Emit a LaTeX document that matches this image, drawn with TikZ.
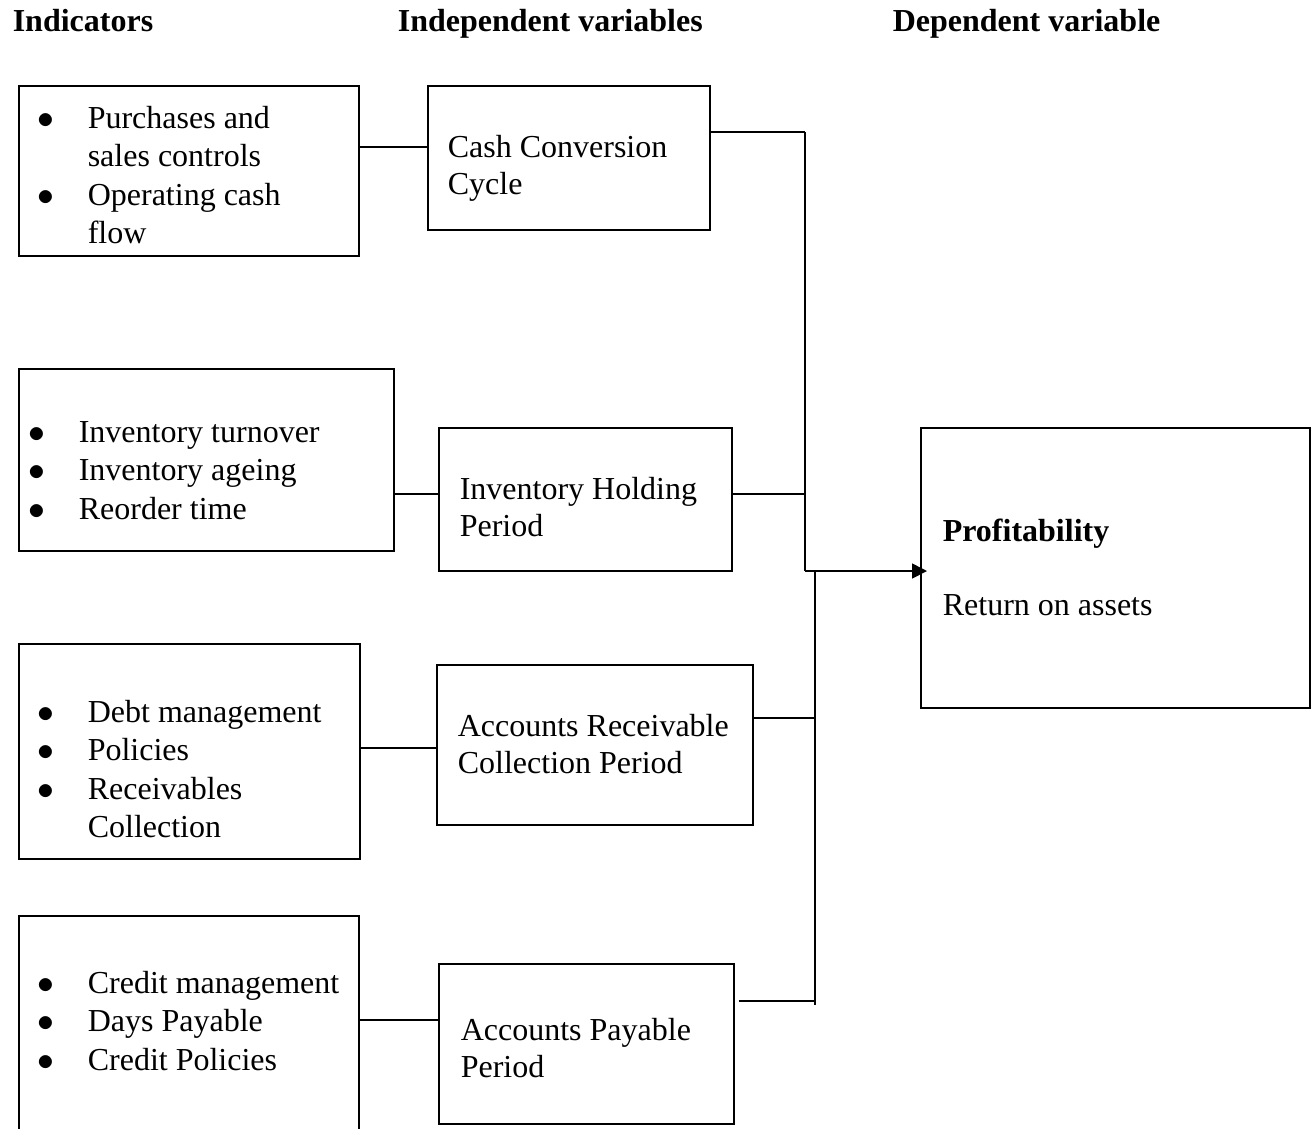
\documentclass[tikz,border=0pt]{standalone}
\usepackage{fontspec}
\setmainfont{Liberation Serif}
\usepackage{graphicx}
\usepackage{tikz}
\usetikzlibrary{arrows.meta,positioning}
\newlength{\bulgap}
\setlength{\bulgap}{50pt}
\newcommand{\bul}{\makebox[\bulgap][l]{\scalebox{1.35}{$\bullet$}}}
\newcommand{\ind}{\hspace*{\bulgap}}
\newcommand{\rows}[1]{\begin{tabular}[t]{@{}l@{}}#1\end{tabular}}

\begin{document}
\begin{tikzpicture}[x=1pt,y=-1pt,>={Triangle[length=15pt,width=15pt]},
  line width=1.6pt, font=\fontsize{32}{38.5}\selectfont,
  box/.style={draw,anchor=north west,inner sep=0pt},
  txt/.style={anchor=base west,inner sep=0pt},
  mid/.style={anchor=base west,inner sep=0pt,font=\fontsize{32}{37}\selectfont},
  head/.style={anchor=base west,inner sep=0pt,font=\fontsize{32}{37}\selectfont\bfseries}]
\useasboundingbox (0,0) rectangle (1316,1128);
\clip (0,0) rectangle (1316,1128);

\node[head] (hind) at (12,31) {Indicators};
\node[head] (hindep) at (397,31) {Independent variables};
\node[head] (hdep) at (892,31) {Dependent variable};

\node[box,minimum width=340pt,minimum height=170pt] (L1) at (18,85) {};
\node[box,minimum width=375pt,minimum height=182pt] (L2) at (18,368) {};
\node[box,minimum width=341pt,minimum height=215pt] (L3) at (18,643) {};
\node[box,minimum width=340pt,minimum height=220pt] (L4) at (18,915) {};
\node[txt] (L1t) at (37,128) {\rows{\bul Purchases and\\ \ind sales controls\\ \bul Operating cash\\ \ind flow}};
\node[txt] (L2t) at (28,442) {\rows{\bul Inventory turnover\\ \bul Inventory ageing\\ \bul Reorder time}};
\node[txt] (L3t) at (37,722) {\rows{\bul Debt management\\ \bul Policies\\ \bul Receivables\\ \ind Collection}};
\node[txt] (L4t) at (37,993) {\rows{\bul Credit management\\ \bul Days Payable\\ \bul Credit Policies}};

\node[box,minimum width=282pt,minimum height=144pt] (M1) at (427,85) {};
\node[box,minimum width=293pt,minimum height=143pt] (M2) at (438,427) {};
\node[box,minimum width=316pt,minimum height=160pt] (M3) at (436,664) {};
\node[box,minimum width=295pt,minimum height=160pt] (M4) at (438,963) {};
\node[mid] (M1t) at (447,157) {\rows{Cash Conversion\\ Cycle}};
\node[mid] (M2t) at (459,499) {\rows{Inventory Holding\\ Period}};
\node[mid] (M3t) at (457,736) {\rows{Accounts Receivable\\ Collection Period}};
\node[mid] (M4t) at (460,1040) {\rows{Accounts Payable\\ Period}};

\node[box,minimum width=389pt,minimum height=280pt] (R) at (920,427) {};
\node[txt,font=\fontsize{32}{37}\selectfont\bfseries] (Rt) at (942,541) {Profitability};
\node[txt] (Rs) at (942,615) {Return on assets};

\coordinate (j1) at (0,147);
\coordinate (j2) at (0,494);
\coordinate (j3) at (0,748);
\coordinate (j4) at (0,1020);
\draw (L1.east |- j1) -- (M1.west |- j1);
\draw (L2.east |- j2) -- (M2.west |- j2);
\draw (L3.east |- j3) -- (M3.west |- j3);
\draw (L4.east |- j4) -- (M4.west |- j4);

\coordinate (busA) at (805,571);
\coordinate (busB) at (815,571);
\coordinate (topA) at (805,132);
\coordinate (botB) at (815,1005);
\draw (topA) -- (busA);
\draw (busB) -- (botB);
\draw (M1.east |- topA) -- (topA);
\draw (M2.east |- j2) -- (busA |- j2);
\draw (M3.east |- 0,718) -- (busB |- 0,718);
\draw[shorten <=4pt] (M4.east |- 0,1001) -- (busB |- 0,1001);
\draw[->,shorten >=-7pt] (busA) -- (R.west |- busA);
\end{tikzpicture}
\end{document}
